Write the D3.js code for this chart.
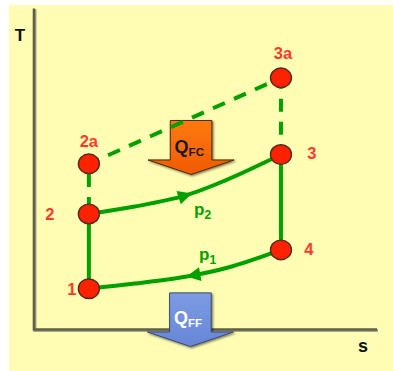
<!DOCTYPE html>
<html><head><meta charset="utf-8">
<script src="https://cdn.jsdelivr.net/npm/d3@7"></script>
<style>html,body{margin:0;padding:0;background:#fff;}svg{display:block;}</style>
</head><body>
<script>
// ---- data (arbitrary entropy s / temperature T units) ----
const stateLabels = ["1", "2", "2a", "3", "3a", "4"];
const stateS = [16, 16, 16, 72, 72, 72];
const stateT = [12.7, 36.0, 51.6, 54.5, 78.4, 24.8];

const isobarP2S = [16, 29.4, 44.0, 55.7, 72];
const isobarP2T = [36.0, 38.3, 41.7, 46.4, 54.5];
const isobarP1S = [72, 56.6, 44.6, 29.4, 16];
const isobarP1T = [24.8, 19.3, 16.5, 14.3, 12.7];

const solidSegments = [["1", "2"], ["3", "4"]];
const dashedSegments = [["2", "2a"], ["2a", "3a"], ["3a", "3"]];

const heatLabels = ["FC", "FF"];
const heatS = [45.8, 45.6];
const heatTopT = [65.1, 11.4];
const heatTipT = [48.3, -5.3];

const axisLabels = ["T", "s"];

// ---- layout ----
const W = 393, H = 371;
const x = d3.scaleLinear().domain([0, 100]).range([34, 377]);
const y = d3.scaleLinear().domain([0, 100]).range([329.5, 8.5]);

const svg = d3.select("body").append("svg").attr("width", W).attr("height", H);
const defs = svg.append("defs");
const sh = defs.append("filter").attr("id", "sh").attr("x", "-20%").attr("y", "-20%").attr("width", "150%").attr("height", "150%");
sh.append("feDropShadow").attr("dx", 1.2).attr("dy", 1.2).attr("stdDeviation", 0.9).attr("flood-color", "#000").attr("flood-opacity", 0.55);
const gO = defs.append("linearGradient").attr("id", "gO").attr("x1", 0).attr("y1", 0).attr("x2", 0).attr("y2", 1);
gO.append("stop").attr("offset", 0).attr("stop-color", "#ff7a12");
gO.append("stop").attr("offset", 1).attr("stop-color", "#f05a00");
const gB = defs.append("linearGradient").attr("id", "gB").attr("x1", 0).attr("y1", 0).attr("x2", 0).attr("y2", 1);
gB.append("stop").attr("offset", 0).attr("stop-color", "#7d9be3");
gB.append("stop").attr("offset", 1).attr("stop-color", "#6686d6");

// background
svg.append("rect").attr("x", 9).attr("y", 5).attr("width", W - 9).attr("height", H - 5).attr("fill", "#fffcb3");

// axes
const axG = svg.append("g");
axG.append("path")
  .attr("d", `M${x(0)},${y(100)} L${x(0)},${y(0)} L${x(100)},${y(0)}`)
  .attr("fill", "none").attr("stroke", "#a7a58a").attr("stroke-width", 3)
  .attr("transform", "translate(1,1)");
axG.append("path")
  .attr("d", `M${x(0)},${y(100)} L${x(0)},${y(0)} L${x(100)},${y(0)}`)
  .attr("fill", "none").attr("stroke", "#605f48").attr("stroke-width", 2.6);

svg.append("text").text(axisLabels[0]).attr("x", 20).attr("y", 41)
  .attr("text-anchor", "middle").attr("font-family", "Liberation Sans, Arial, sans-serif")
  .attr("font-weight", "bold").attr("font-size", 17).attr("fill", "#111");
svg.append("text").text(axisLabels[1]).attr("x", 363).attr("y", 352)
  .attr("text-anchor", "middle").attr("font-family", "Liberation Sans, Arial, sans-serif")
  .attr("font-weight", "bold").attr("font-size", 18).attr("fill", "#111");

const green = "#00a000";
const font = "Liberation Sans, Arial, sans-serif";
const idx = l => stateLabels.indexOf(l);
const px = l => x(stateS[idx(l)]);
const py = l => y(stateT[idx(l)]);

// heat arrows (QFC drawn under the cycle lines, QFF over the axis)
const heatLayer = [svg.append("g"), null];
function drawHeat(i, g) {
  const lab = heatLabels[i];
  const cx = x(heatS[i]), top = y(heatTopT[i]), tip = y(heatTipT[i]);
  const hw = 20.8, hh = 43, headH = 14.5;
  const base = tip - headH;
  g.append("path")
    .attr("d", `M${cx - hw},${top} L${cx + hw},${top} L${cx + hw},${base} L${cx + hh},${base} L${cx},${tip} L${cx - hh},${base} L${cx - hw},${base} Z`)
    .attr("fill", i === 0 ? "url(#gO)" : "url(#gB)")
    .attr("stroke", i === 0 ? "#4a2a08" : "#3a4a70").attr("stroke-width", 1)
    .attr("filter", "url(#sh)");
  const t = g.append("text").attr("x", cx - 16.5).attr("y", top + (i === 0 ? 32.5 : 31))
    .attr("font-family", font).attr("font-weight", "bold").attr("font-size", 18)
    .attr("fill", i === 0 ? "#1a1a1a" : "#ffffff");
  t.append("tspan").text("Q");
  t.append("tspan").text(lab).attr("font-size", 11.5).attr("dy", 3);
}
drawHeat(0, heatLayer[0]);

// dashed lines
dashedSegments.forEach(([a, b], i) => {
  svg.append("line").attr("x1", px(a)).attr("y1", py(a)).attr("x2", px(b)).attr("y2", py(b))
    .attr("stroke", green).attr("stroke-width", 4)
    .attr("stroke-dasharray", "13,10").attr("stroke-dashoffset", i === 0 ? -4 : 2);
});
// solid lines
solidSegments.forEach(([a, b]) => {
  svg.append("line").attr("x1", px(a)).attr("y1", py(a)).attr("x2", px(b)).attr("y2", py(b))
    .attr("stroke", green).attr("stroke-width", 4);
});

const line = d3.line().x(d => x(d[0])).y(d => y(d[1])).curve(d3.curveCatmullRom.alpha(0.5));
function isobar(S, T, frac) {
  const pts = S.map((s, i) => [s, T[i]]);
  const p = svg.append("path").attr("d", line(pts)).attr("fill", "none")
    .attr("stroke", green).attr("stroke-width", 4);
  const node = p.node(), L = node.getTotalLength();
  const tip = node.getPointAtLength(L * frac);
  const back = node.getPointAtLength(L * frac - 6);
  const ang = Math.atan2(tip.y - back.y, tip.x - back.x) * 180 / Math.PI;
  svg.append("path").attr("d", "M0,0 L-14,-7 L-14,7 Z").attr("fill", green)
    .attr("transform", `translate(${tip.x},${tip.y}) rotate(${ang})`);
}
isobar(isobarP2S, isobarP2T, 0.52);
isobar(isobarP1S, isobarP1T, 0.5);

// pressure labels
function pLabel(xp, yp, sub) {
  const t = svg.append("text").attr("x", xp).attr("y", yp).attr("font-family", font)
    .attr("font-weight", "bold").attr("font-size", 17).attr("fill", green);
  t.append("tspan").text("p");
  t.append("tspan").text(sub).attr("font-size", 12).attr("dy", 4);
}
pLabel(194, 215, "2");
pLabel(199, 260, "1");

drawHeat(1, svg.append("g"));

// state points
const labelOffset = { "1": [-17, 0], "2": [-39, 0], "2a": [0, -23], "3": [31, -2], "3a": [2, -25], "4": [28, -1] };
stateLabels.forEach((l, i) => {
  svg.append("ellipse").attr("cx", x(stateS[i])).attr("cy", y(stateT[i]))
    .attr("rx", 10.5).attr("ry", 9.8).attr("fill", "#ff2200")
    .attr("stroke", "#5a2a1a").attr("stroke-width", 1.4);
  const o = labelOffset[l];
  svg.append("text").text(l).attr("x", x(stateS[i]) + o[0]).attr("y", y(stateT[i]) + o[1] + 6)
    .attr("text-anchor", "middle").attr("font-family", font).attr("font-weight", "bold")
    .attr("font-size", 16.5).attr("fill", "#ff3a2a");
});
</script>
</body></html>
